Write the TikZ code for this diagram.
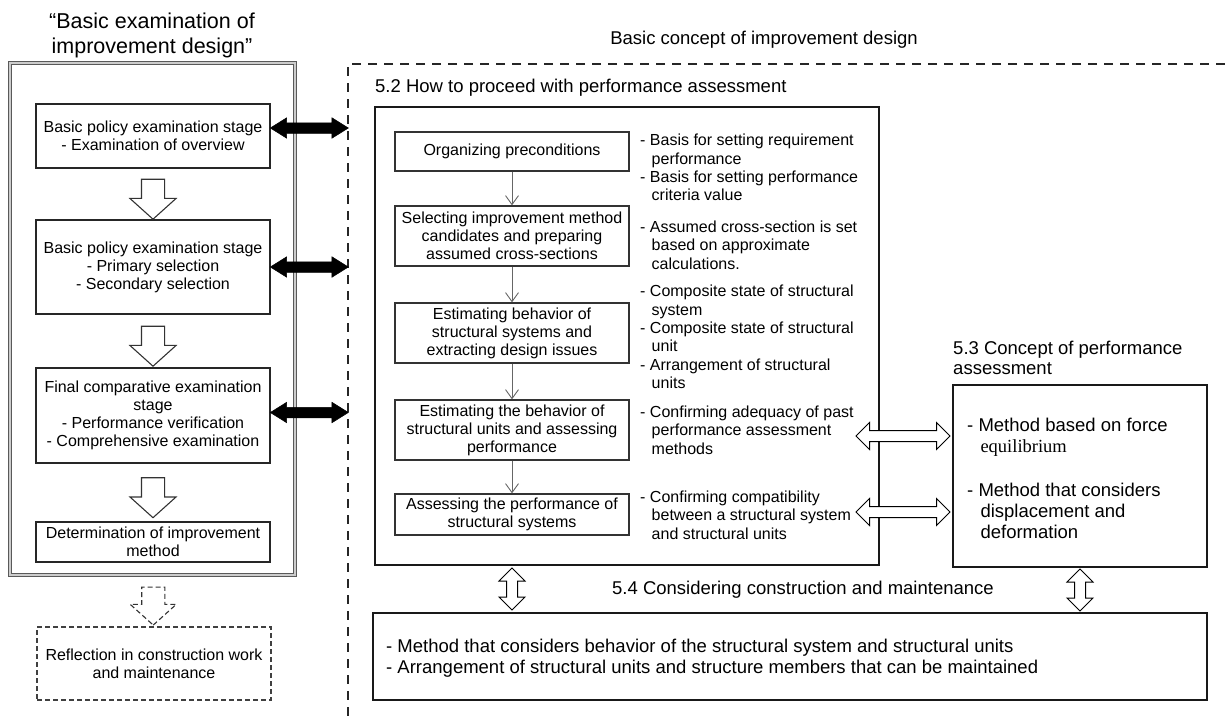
\documentclass[tikz,border=0pt]{standalone}
\usepackage{fontspec}
\setmainfont{Liberation Sans}
\newfontfamily\serifword{Liberation Serif}
\usepackage{tikz}
\usetikzlibrary{positioning,calc,shapes.arrows,arrows.meta}

% indent for the wrapped lines of a "- " item
\newcommand{\contline}{\hspace*{0.72em}}

\begin{document}
\begin{tikzpicture}[
    x=1pt, y=-1pt,
    heading/.style={
        inner sep=0pt,
        font=\fontsize{18.5}{20.5}\selectfont
    },
    stage box/.style={
        draw=black!85,
        line width=1.3pt,
        minimum width=234pt,
        inner sep=2pt,
        font=\fontsize{16}{18}\selectfont,
        align=center
    },
    task box/.style={
        stage box,
        draw=black!80
    },
    section box/.style={
        draw=black!90,
        line width=2pt
    },
    note text/.style={
        anchor=west,
        align=left,
        inner sep=0pt,
        font=\fontsize{16}{18.3}\selectfont
    },
    flow/.style={-{Straight Barb[length=9pt,width=13pt]}, draw=black!60, line width=0.9pt},
    bold link/.style={
        double arrow, fill=black, draw=black, line width=0.5pt,
        inner xsep=0pt, inner ysep=5pt,
        minimum width=20pt, double arrow head extend=5pt,
        double arrow tip angle=64
    },
    open link/.style={
        double arrow, fill=white, draw=black, line width=1pt,
        inner xsep=0pt, inner ysep=5pt,
        minimum width=26pt, double arrow head extend=8pt,
        double arrow tip angle=90
    },
    down arrow/.style={
        single arrow, fill=white, draw=black!80, line width=1.1pt,
        inner xsep=0pt, inner ysep=11pt,
        minimum width=45pt, single arrow head extend=11.5pt,
        single arrow tip angle=96, minimum height=40pt, rotate=-90
    }
]
\useasboundingbox (0,0) rectangle (1225,717);

% Left column: basic examination
\node[font=\fontsize{21.5}{25}\selectfont, align=center, inner sep=0pt] (lefttitle) at (152,35)
    {“Basic examination of\\improvement design”};
\node[draw=gray!70!black, double=gray!40, double distance=2pt, line width=0.8pt,
      minimum width=285pt, minimum height=512pt] (leftframe) at (152.5,319) {};

\node[stage box, minimum height=64pt] (b1) at (153,136)
    {Basic policy examination stage\\- Examination of overview};
\node[stage box, minimum height=94pt] (b2) at (153,267)
    {Basic policy examination stage\\- Primary selection\\- Secondary selection};
\node[stage box, minimum height=95pt] (b3) at (153,415.5)
    {Final comparative examination\\stage\\- Performance verification\\- Comprehensive examination};
\node[stage box, minimum height=40pt] (b4) at (153,542)
    {Determination of improvement\\method};
\node[stage box, dashed, dash pattern=on 5pt off 3pt, draw=black!75, minimum height=73pt] (b5) at (154,663.5)
    {Reflection in construction work\\and maintenance};

\node[down arrow] (d12) at ($(b1.south)!.5!(b2.north)$) {};
\node[down arrow] (d23) at ($(b2.south)!.5!(b3.north)$) {};
\node[down arrow] (d34) at ($(b3.south)!.5!(b4.north)$) {};
\node[down arrow, dashed, dash pattern=on 5pt off 3pt, minimum height=38pt] (d45) at ($(leftframe.south)!.5!(b5.north)$) {};

% Dashed frame of the basic concept
\coordinate (frame) at (348,64);
\draw[dash pattern=on 9pt off 7pt, line width=2pt, black!85] (1225,64) -- (frame) -- (348,717);
\node[heading] (concept) at (764,40) {Basic concept of improvement design};

% Links between the two parts
\node[bold link, minimum height=78pt] (l1) at ($([yshift=8pt]b1.east)!.5!([yshift=8pt]b1.east -| frame)$) {};
\node[bold link, minimum height=78pt] (l2) at ($(b2.east)!.5!(b2.east -| frame)$) {};
\node[bold link, minimum height=78pt] (l3) at ($([yshift=3pt]b3.east)!.5!([yshift=3pt]b3.east -| frame)$) {};

% 5.2 performance assessment
\node[heading, anchor=west] (title52) at (375,88) {5.2 How to proceed with performance assessment};
\node[section box, minimum width=504pt, minimum height=458pt] (sec52) at (627,336) {};

\node[task box, minimum height=39pt] (p1) at (512,151.5) {Organizing preconditions};
\node[task box, minimum height=60pt] (p2) at (512,236)
    {Selecting improvement method\\candidates and preparing\\assumed cross-sections};
\node[task box, minimum height=60pt] (p3) at (512,333)
    {Estimating behavior of\\structural systems and\\extracting design issues};
\node[task box, minimum height=60pt] (p4) at (512,430)
    {Estimating the behavior of\\structural units and assessing\\performance};
\node[task box, minimum height=41pt] (p5) at (512,514.5)
    {Assessing the performance of\\structural systems};

\draw[flow] (p1) -- (p2);
\draw[flow] (p2) -- (p3);
\draw[flow] (p3) -- (p4);
\draw[flow] (p4) -- (p5);

\node[note text] (n1) at (640,167.5)
    {- Basis for setting requirement\\\contline performance\\- Basis for setting performance\\\contline criteria value};
\node[note text] (n2) at (640,245)
    {- Assumed cross-section is set\\\contline based on approximate\\\contline calculations.};
\node[note text] (n3) at (640,337)
    {- Composite state of structural\\\contline system\\- Composite state of structural\\\contline unit\\- Arrangement of structural\\\contline units};
\node[note text] (n4) at (640,430)
    {- Confirming adequacy of past\\\contline performance assessment\\\contline methods};
\node[note text] (n5) at (640,515)
    {- Confirming compatibility\\\contline between a structural system\\\contline and structural units};

% 5.3 concept of performance assessment
\node[heading, anchor=west, align=left] (title53) at (953,358) {5.3 Concept of performance\\assessment};
\node[section box, minimum width=254pt, minimum height=182pt] (sec53) at (1080,476) {};
\node[heading, anchor=west, align=left, font=\fontsize{18.5}{21}\selectfont] (methods) at (967,478)
    {- Method based on force\\
     \contline{\serifword equilibrium}\\[23pt]
     - Method that considers\\
     \contline displacement and\\
     \contline deformation};

\node[open link, minimum height=94pt] (l4) at (903,436) {};
\node[open link, minimum height=94pt] (l5) at (903,512) {};

% 5.4 construction and maintenance
\node[heading, anchor=west] (title54) at (612,590) {5.4 Considering construction and maintenance};
\node[section box, minimum width=834pt, minimum height=87pt] (sec54) at (790,656.5) {};
\node[heading, anchor=west, align=left, font=\fontsize{18.5}{21}\selectfont] (upkeep) at (386,658.5)
    {- Method that considers behavior of the structural system and structural units\\
     - Arrangement of structural units and structure members that can be maintained};

\node[open link, rotate=90, minimum height=42pt, minimum width=25pt, double arrow head extend=7.5pt]
    (l6) at ($(p5.south |- sec52.south)!.5!(p5.south |- sec54.north)$) {};
\node[open link, rotate=90, minimum height=42pt, minimum width=25pt, double arrow head extend=7.5pt]
    (l7) at ($(sec53.south)!.5!(sec53.south |- sec54.north)$) {};

\end{tikzpicture}
\end{document}
